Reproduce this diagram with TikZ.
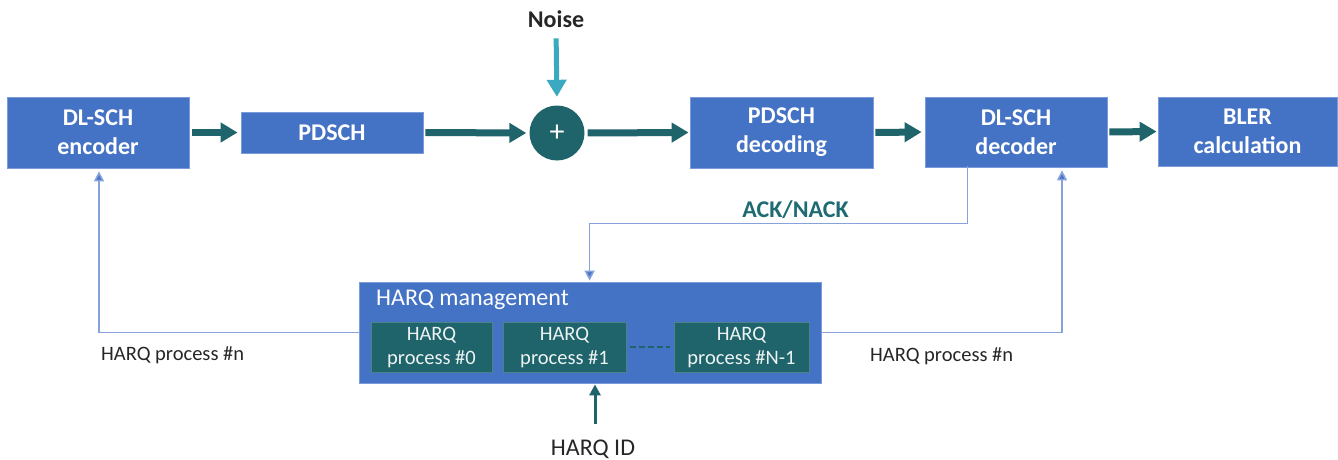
\documentclass[tikz,border=0pt]{standalone}
\usepackage{fontspec}
\setmainfont{Carlito}
\usetikzlibrary{arrows.meta,calc}
\definecolor{boxblue}{HTML}{4472C4}
\definecolor{boxedge}{HTML}{7C9BDA}
\definecolor{tealc}{HTML}{1F636B}
\definecolor{noisec}{HTML}{3BA9BF}
\definecolor{thinb}{HTML}{86A2DC}
\definecolor{tipb}{HTML}{4A74C6}
\definecolor{labelc}{HTML}{262626}
\definecolor{ackc}{HTML}{1F6B74}
\begin{document}
\begin{tikzpicture}[x=1pt,y=-1pt,
  blk/.style={rectangle, fill=boxblue, draw=boxedge, line width=0.8pt, text=white,
    font=\fontsize{24}{29}\selectfont\bfseries, align=center, inner sep=0pt},
  proc/.style={rectangle, fill=tealc, draw=tealc!80!white, line width=0.6pt, text=white!92!tealc,
    font=\fontsize{20.5}{24}\selectfont, align=center, inner sep=0pt, minimum height=50pt},
  fat/.style={draw=tealc, line width=7pt, -{Triangle[length=17pt,width=19pt]}},
  noisearr/.style={draw=noisec, line width=5pt, -{Triangle[length=17pt,width=19pt]}},
  idarr/.style={draw=tealc, line width=3pt, -{Triangle[length=11pt,width=11pt]}},
  fb/.style={draw=thinb, line width=1.6pt, -{Triangle[length=10pt,width=10pt,fill=tipb]}},
  lbl/.style={text=labelc, font=\fontsize{20.5}{24}\selectfont, inner sep=0pt},
  bl/.style={font=\fontsize{24}{29}\selectfont\bfseries, inner sep=0pt}
]
\useasboundingbox (0,0) rectangle (1338,460);

% main chain
\node[blk, minimum width=182pt, minimum height=71pt] (enc) at (98,132.5) {DL-SCH\\encoder};
\node[blk, minimum width=182pt, minimum height=41pt] (pdsch) at (332,132.5) {PDSCH};
\node[circle, fill=tealc, minimum size=55pt, inner sep=0pt, text=white,
      font=\fontsize{30}{30}\selectfont] (plus) at (557,133) {+};
\node[blk, minimum width=183pt, minimum height=71pt] (pdec) at (781.5,132.5) {PDSCH\\decoding};
\node[blk, minimum width=182pt, minimum height=70pt] (dec) at (1016,132) {DL-SCH\\decoder};
\node[blk, minimum width=179pt, minimum height=69pt] (bler) at (1247.5,131.5) {BLER\\calculation};

\node[bl, text=labelc, anchor=base] (noise) at (556,27.5) {Noise};

% HARQ management
\node[rectangle, fill=boxblue, draw=boxedge, line width=0.8pt, minimum width=462pt,
      minimum height=101pt, inner sep=0pt] (mgmt) at (590,332.5) {};
\node[text=white, font=\fontsize{24}{28}\selectfont, inner sep=0pt, anchor=base west]
      (mtitle) at (376,305.5) {HARQ management};
\node[proc, minimum width=121pt] (p0) at (431.5,347) {HARQ\\process \#0};
\node[proc, minimum width=123pt] (p1) at (564.5,347) {HARQ\\process \#1};
\node[proc, minimum width=135pt] (pN) at (741.5,347) {HARQ\\process \#N-1};

\node[text=labelc, font=\fontsize{24}{28}\selectfont, inner sep=0pt, anchor=base]
      (hid) at (593,455) {HARQ ID};
\node[lbl, anchor=base west] (lleft) at (101,360) {HARQ process \#n};
\node[lbl, anchor=base west] (lright) at (870,361) {HARQ process \#n};
\node[bl, text=ackc, anchor=base] (ack) at (795.5,217) {ACK/NACK};

% thick arrows
\draw[fat, shorten <=3pt, shorten >=3pt] (enc.east) -- (pdsch.west);
\draw[fat, shorten <=2pt, shorten >=3pt] (pdsch.east) -- (plus.west);
\draw[fat, shorten <=3pt, shorten >=1pt] (plus.east) -- (pdec.west);
\draw[fat, shorten <=2pt, shorten >=3pt] (pdec.east) -- (dec.west);
\draw[fat, shorten <=2pt, shorten >=1pt] (dec.east) -- (bler.west);
\draw[noisearr, shorten <=10.5pt, shorten >=8.5pt] (noise.south) -- (plus.north);

% HARQ ID arrow
\draw[idarr, shorten <=15pt, shorten >=1pt] ([xshift=2pt]hid.north) -- ([xshift=2pt]hid.north |- mgmt.south);

% dashed link between processes
\draw[tealc, line width=2pt, dash pattern=on 6pt off 3pt, shorten <=4pt, shorten >=4pt] (p1.east) -- (pN.west);

% feedback lines
\draw[fb, shorten >=1pt] ([xshift=43pt,yshift=1pt]dec.south west) -- ++(0,57) -| ([xshift=231pt]mgmt.north west);
\draw[fb, shorten >=3pt] (mgmt.west) -| ([xshift=1pt]enc.south);
\draw[fb, shorten >=3pt] (mgmt.east) -| ([xshift=46pt]dec.south);
\end{tikzpicture}
\end{document}
